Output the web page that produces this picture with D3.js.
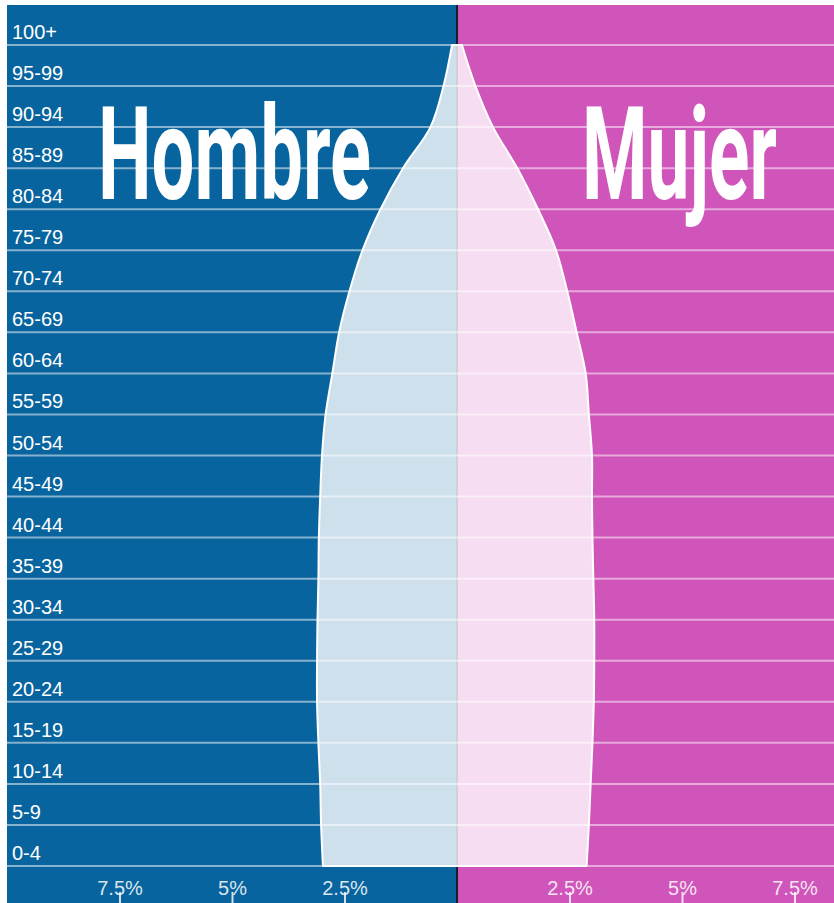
<!DOCTYPE html>
<html>
<head>
<meta charset="utf-8">
<script src="https://cdn.jsdelivr.net/npm/d3@7"></script>
<style>
  body { margin: 0; background: #fff; }
  svg { display: block; }
</style>
</head>
<body>
<svg width="834" height="903"></svg>
<script>
var ageGroups = ["0-4", "5-9", "10-14", "15-19", "20-24", "25-29", "30-34", "35-39",
    "40-44", "45-49", "50-54", "55-59", "60-64", "65-69", "70-74", "75-79",
    "80-84", "85-89", "90-94", "95-99", "100+"];

// percent of total population
var male = [2.98, 3.02, 3.04, 3.08, 3.11, 3.11, 3.10, 3.08, 3.07, 3.04,
    3.00, 2.92, 2.77, 2.62, 2.39, 2.10, 1.70, 1.20, 0.59, 0.30, 0.11];
var female = [2.88, 2.93, 2.97, 3.01, 3.04, 3.05, 3.05, 3.03, 3.01, 3.00,
    3.00, 2.93, 2.86, 2.66, 2.45, 2.20, 1.80, 1.34, 0.80, 0.41, 0.11];

var tickValues = [-7.5, -5, -2.5, 2.5, 5, 7.5];
var titles = ["Hombre", "Mujer"];

var svg = d3.select("svg");

var x = d3.scaleLinear().domain([-10, 10]).range([7, 907]);
var y = d3.scalePoint().domain(ageGroups).range([866, 45]);

// two halves of the background
svg.append("rect")
    .attr("x", x(-10))
    .attr("y", 5)
    .attr("width", x(0) - x(-10))
    .attr("height", 903)
    .attr("fill", "#08649e");

svg.append("rect")
    .attr("x", x(0))
    .attr("y", 5)
    .attr("width", x(10) - x(0))
    .attr("height", 903)
    .attr("fill", "#d055ba");

svg.append("line")
    .attr("x1", x(0)).attr("x2", x(0))
    .attr("y1", 5).attr("y2", 903)
    .attr("stroke", "#1d1b2b")
    .attr("stroke-width", 2);

var rows = ageGroups.map(function(d, i) {
    return { age: d, m: male[i], f: female[i] };
});

var area = d3.area()
    .y(function(d) { return y(d.age); })
    .x0(function(d) { return x(-d.m); })
    .x1(function(d) { return x(d.f); })
    .curve(d3.curveCatmullRom.alpha(0.5));

svg.append("path")
    .datum(rows)
    .attr("d", area)
    .attr("fill", "#fff")
    .attr("fill-opacity", 0.8)
    .attr("stroke", "#fff")
    .attr("stroke-width", 2)
    .attr("stroke-linejoin", "round");

// big side titles
svg.append("text")
    .attr("x", 98)
    .attr("y", 199)
    .attr("textLength", 273)
    .attr("lengthAdjust", "spacingAndGlyphs")
    .attr("font-family", "Roboto")
    .attr("font-weight", "bold")
    .attr("font-size", 130)
    .attr("fill", "#fff")
    .text(titles[0]);

svg.append("text")
    .attr("x", 582)
    .attr("y", 199)
    .attr("textLength", 195)
    .attr("lengthAdjust", "spacingAndGlyphs")
    .attr("font-family", "Roboto")
    .attr("font-weight", "bold")
    .attr("font-size", 130)
    .attr("fill", "#fff")
    .text(titles[1]);

// grid lines, one per age group
svg.append("g")
    .selectAll("line")
    .data(ageGroups)
    .enter()
    .append("line")
    .attr("x1", 7)
    .attr("x2", 834)
    .attr("y1", function(d) { return y(d); })
    .attr("y2", function(d) { return y(d); })
    .attr("stroke", "#fff")
    .attr("stroke-opacity", 0.5)
    .attr("stroke-width", 2);

svg.append("g")
    .selectAll("text")
    .data(ageGroups)
    .enter()
    .append("text")
    .attr("x", 12)
    .attr("y", function(d) { return y(d) - 6; })
    .attr("font-family", "Liberation Sans, Arial, sans-serif")
    .attr("font-size", 20)
    .attr("fill", "#fff")
    .text(function(d) { return d; });

var axis = d3.axisBottom(x)
    .tickValues(tickValues)
    .tickSize(12)
    .tickFormat(function(d) { return Math.abs(d) + "%"; });

var ax = svg.append("g")
    .attr("transform", "translate(0,892)")
    .call(axis);

ax.select(".domain").remove();
ax.selectAll("line")
    .attr("stroke", "#fff")
    .attr("stroke-opacity", 0.8)
    .attr("stroke-width", 2);
ax.selectAll("text")
    .attr("y", 3)
    .attr("dy", 0)
    .attr("font-family", "Liberation Sans, Arial, sans-serif")
    .attr("font-size", 20)
    .attr("fill", "#fff")
    .attr("fill-opacity", 0.85);
</script>
</body>
</html>
